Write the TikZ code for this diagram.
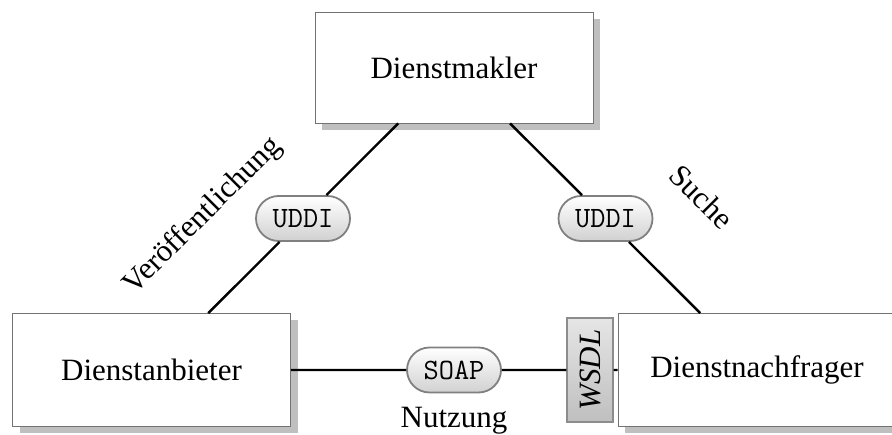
\documentclass[tikz,border=0pt]{standalone}
\usepackage{fontspec}
\setmainfont{Liberation Serif}
\usetikzlibrary{shadows,shapes.misc}

\tikzset{
  rolebox/.style={draw=black!55, line width=0.8pt, fill=white,
    minimum width=278pt, minimum height=113pt, inner sep=0pt,
    font=\fontsize{31}{37}\selectfont,
    drop shadow={shadow xshift=7pt, shadow yshift=-7pt, fill=black!25, opacity=1}},
  proto/.style={rounded rectangle, draw=black!50, line width=1.8pt,
    top color=white, bottom color=black!18,
    minimum width=94pt, minimum height=45pt, inner sep=0pt,
    font=\fontsize{29.5}{34}\selectfont\ttfamily},
  descr/.style={draw=black!45, line width=1.4pt,
    top color=black!10, bottom color=black!25,
    minimum width=104pt, minimum height=46pt, inner sep=0pt,
    font=\fontsize{31}{37}\selectfont\itshape},
  link/.style={line width=2.4pt},
  caption/.style={font=\fontsize{31}{37}\selectfont, inner sep=0pt}
}

\begin{document}
\begin{tikzpicture}[x=1pt, y=-1pt]
  \useasboundingbox (0,0) rectangle (892,435);
  \clip (0,0) rectangle (892,435);

  % the three roles
  \node[rolebox, minimum height=111pt] (mak) at (454,67.5) {Dienstmakler};
  \node[rolebox] (anb) at (151.5,370) {Dienstanbieter};
  \node[rolebox] (nach) at (757,370) {Dienstnachfrager};

  % protocol markers on the connections
  \node[proto] (uddiL) at (303,218.5) {UDDI};
  \node[proto] (uddiR) at (605.5,218.5) {UDDI};
  \node[proto] (soap) at (454,370) {SOAP};
  \node[descr, rotate=90] (wsdl) at (590,370) {WSDL};

  % connections
  \draw[link] (mak) -- (uddiL) -- (anb);
  \draw[link] (mak) -- (uddiR) -- (nach);
  \draw[link] (anb) -- (soap) -- (wsdl) -- (nach);

  % interaction labels
  \node[caption, rotate=45] (pub) at (203,216) {Veröffentlichung};
  \node[caption, rotate=-45] (find) at (702,197) {Suche};
  \node[caption, anchor=base] (use) at (454,428) {Nutzung};
\end{tikzpicture}
\end{document}
